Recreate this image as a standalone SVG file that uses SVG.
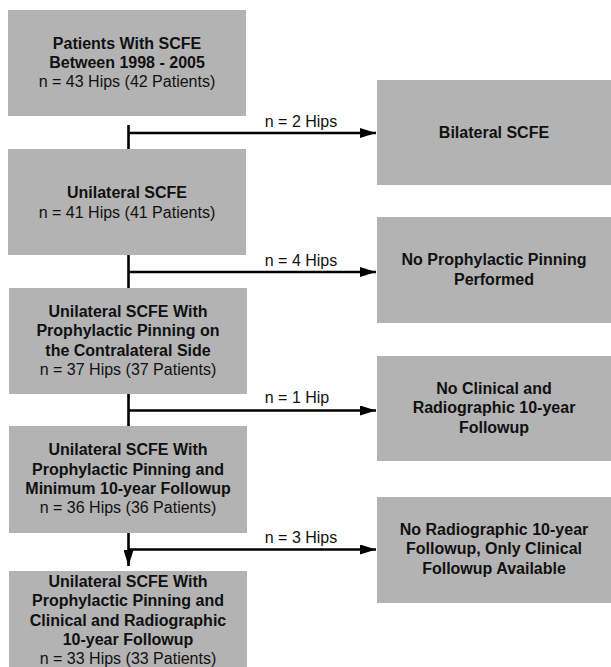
<svg xmlns="http://www.w3.org/2000/svg" width="611" height="667" viewBox="0 0 611 667">
<defs>
<style>
.box{fill:#b3b3b3}
text{font-family:"Liberation Sans",Arial,sans-serif;font-size:16px;fill:#111;text-anchor:middle}
.b{font-weight:bold}
.lbl{font-size:16px}
.ln{stroke:#000;stroke-width:2.6;fill:none}
</style>
<marker id="ah" markerWidth="16" markerHeight="10" refX="16" refY="5" orient="auto" markerUnits="userSpaceOnUse">
<path d="M0,0 L16,5 L0,10 Z" fill="#000"/>
</marker>
</defs>
<rect width="611" height="667" fill="#fff"/>
<g id="n1">
<rect class="box" x="8" y="10" width="238" height="106"/>
<text x="127" y="49" class="b">Patients With SCFE</text>
<text x="127" y="68" class="b">Between 1998 - 2005</text>
<text x="127" y="87">n = 43 Hips (42 Patients)</text>
</g>
<g id="n2">
<rect class="box" x="8" y="149" width="238" height="106"/>
<text x="127" y="198" class="b">Unilateral SCFE</text>
<text x="127" y="218">n = 41 Hips (41 Patients)</text>
</g>
<g id="n3">
<rect class="box" x="9" y="288" width="238" height="106"/>
<text x="128" y="317" class="b">Unilateral SCFE With</text>
<text x="128" y="336" class="b">Prophylactic Pinning on</text>
<text x="128" y="356" class="b">the Contralateral Side</text>
<text x="128" y="375">n = 37 Hips (37 Patients)</text>
</g>
<g id="n4">
<rect class="box" x="9" y="426" width="238" height="107"/>
<text x="128" y="455" class="b">Unilateral SCFE With</text>
<text x="128" y="475" class="b">Prophylactic Pinning and</text>
<text x="128" y="494" class="b">Minimum 10-year Followup</text>
<text x="128" y="513">n = 36 Hips (36 Patients)</text>
</g>
<g id="n5">
<rect class="box" x="9" y="571" width="238" height="100"/>
<text x="128" y="587" class="b">Unilateral SCFE With</text>
<text x="128" y="606" class="b">Prophylactic Pinning and</text>
<text x="128" y="626" class="b">Clinical and Radiographic</text>
<text x="128" y="645" class="b">10-year Followup</text>
<text x="128" y="664">n = 33 Hips (33 Patients)</text>
</g>
<g id="r1">
<rect class="box" x="377" y="80" width="234" height="105"/>
<text x="494" y="138" class="b">Bilateral SCFE</text>
</g>
<g id="r2">
<rect class="box" x="377" y="217" width="234" height="106"/>
<text x="494" y="265" class="b">No Prophylactic Pinning</text>
<text x="494" y="285" class="b">Performed</text>
</g>
<g id="r3">
<rect class="box" x="377" y="356" width="234" height="105"/>
<text x="494" y="394" class="b">No Clinical and</text>
<text x="494" y="413" class="b">Radiographic 10-year</text>
<text x="494" y="433" class="b">Followup</text>
</g>
<g id="r4">
<rect class="box" x="377" y="497" width="234" height="106"/>
<text x="494" y="535" class="b">No Radiographic 10-year</text>
<text x="494" y="554" class="b">Followup, Only Clinical</text>
<text x="494" y="574" class="b">Followup Available</text>
</g>
<g id="connectors">
<line class="ln" x1="128.5" y1="125" x2="128.5" y2="149"/>
<line class="ln" x1="128.5" y1="133" x2="376" y2="133" marker-end="url(#ah)"/>
<line class="ln" x1="128.5" y1="255" x2="128.5" y2="288"/>
<line class="ln" x1="128.5" y1="272" x2="376" y2="272" marker-end="url(#ah)"/>
<line class="ln" x1="128.5" y1="394" x2="128.5" y2="426"/>
<line class="ln" x1="128.5" y1="410.5" x2="376" y2="410.5" marker-end="url(#ah)"/>
<line class="ln" x1="128.5" y1="533" x2="128.5" y2="566" marker-end="url(#ah)"/>
<line class="ln" x1="128.5" y1="549.5" x2="376" y2="549.5" marker-end="url(#ah)"/>
<text x="301" y="127" class="lbl">n = 2 Hips</text>
<text x="301" y="266" class="lbl">n = 4 Hips</text>
<text x="297" y="403" class="lbl">n = 1 Hip</text>
<text x="301" y="543" class="lbl">n = 3 Hips</text>
</g>
</svg>
